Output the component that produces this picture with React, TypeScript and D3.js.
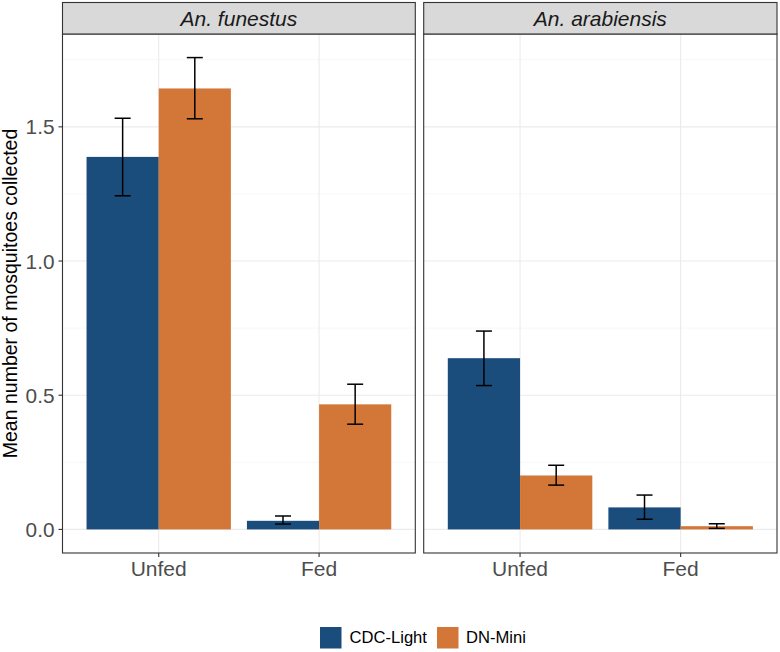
import React from "react";
import * as d3 from "d3";

const panels = ["An. funestus", "An. arabiensis"];
const categories = ["Unfed", "Fed"];
const methods = ["CDC-Light", "DN-Mini"];
const colors = ["#1a4d7c", "#d27738"];
// values per panel: [Unfed CDC, Unfed DN, Fed CDC, Fed DN]
const funestusMean = [1.388, 1.643, 0.032, 0.466];
const funestusLow = [1.243, 1.530, 0.020, 0.392];
const funestusHigh = [1.532, 1.758, 0.050, 0.541];
const arabiensisMean = [0.638, 0.201, 0.082, 0.012];
const arabiensisLow = [0.536, 0.165, 0.038, 0.004];
const arabiensisHigh = [0.739, 0.239, 0.128, 0.021];
const yTicks = [0, 0.5, 1.0, 1.5];
const yMinor = [0.25, 0.75, 1.25, 1.75];

const W = 780, H = 652;
const top = 34, bottom = 553;
const panelX = [[62.5, 415.3], [423.7, 777]];
const font = "Liberation Sans, Arial, sans-serif";

export default function App() {
  const yMax = 1.758;
  const pad = yMax * 0.05;
  const y = d3.scaleLinear().domain([-pad, yMax + pad]).range([bottom, top]);
  const data = [
    { mean: funestusMean, low: funestusLow, high: funestusHigh },
    { mean: arabiensisMean, low: arabiensisLow, high: arabiensisHigh },
  ];
  return (
    <svg width={W} height={H} style={{ position: "absolute", left: 0, top: 0, fontFamily: font }}>
      <rect width={W} height={H} fill="white" />
      {panels.map((p, pi) => {
        const [x0, x1] = panelX[pi];
        const x = d3.scalePoint().domain(categories).range([x0, x1]).padding(0.6);
        const unit = x.step();
        const cx = (c: string) => x(c) as number;
        const bw = unit * 0.45;
        const d = data[pi];
        return (
          <g key={p}>
            <rect x={x0} y={top} width={x1 - x0} height={bottom - top} fill="white" />
            {yMinor.map((t) => (
              <line key={"m" + t} x1={x0} x2={x1} y1={y(t)} y2={y(t)} stroke="#f2f2f2" strokeWidth={0.6} />
            ))}
            {yTicks.map((t) => (
              <line key={"M" + t} x1={x0} x2={x1} y1={y(t)} y2={y(t)} stroke="#ebebeb" strokeWidth={1.1} />
            ))}
            {categories.map((c) => (
              <line key={c} x1={cx(c)} x2={cx(c)} y1={top} y2={bottom} stroke="#ebebeb" strokeWidth={1.1} />
            ))}
            {categories.map((c, ci) =>
              methods.map((m, mi) => {
                const k = ci * 2 + mi;
                const bx = cx(c) - bw + mi * bw;
                const mid = bx + bw / 2;
                return (
                  <g key={c + m}>
                    <rect x={bx} y={y(d.mean[k])} width={bw} height={y(0) - y(d.mean[k])} fill={colors[mi]} />
                    <line x1={mid} x2={mid} y1={y(d.low[k])} y2={y(d.high[k])} stroke="black" strokeWidth={1.5} />
                    <line x1={mid - 8} x2={mid + 8} y1={y(d.low[k])} y2={y(d.low[k])} stroke="black" strokeWidth={1.5} />
                    <line x1={mid - 8} x2={mid + 8} y1={y(d.high[k])} y2={y(d.high[k])} stroke="black" strokeWidth={1.5} />
                  </g>
                );
              })
            )}
            <rect x={x0} y={top} width={x1 - x0} height={bottom - top} fill="none" stroke="#333333" strokeWidth={1.1} />
            <rect x={x0} y={2.5} width={x1 - x0} height={top - 2.5} fill="#d9d9d9" stroke="#333333" strokeWidth={1.1} />
            <text x={(x0 + x1) / 2} y={25.5} textAnchor="middle" fontSize={21} fontStyle="italic" fill="#1a1a1a">
              {p}
            </text>
            {categories.map((c) => (
              <g key={"t" + c}>
                <line x1={cx(c)} x2={cx(c)} y1={bottom} y2={bottom + 4} stroke="#333333" strokeWidth={1.1} />
                <text x={cx(c)} y={576} textAnchor="middle" fontSize={21} fill="#4d4d4d">
                  {c}
                </text>
              </g>
            ))}
            {pi === 0 &&
              yTicks.map((t) => (
                <g key={"y" + t}>
                  <line x1={x0 - 4} x2={x0} y1={y(t)} y2={y(t)} stroke="#333333" strokeWidth={1.1} />
                  <text x={x0 - 8} y={y(t)} dy="0.36em" textAnchor="end" fontSize={20.8} fill="#4d4d4d">
                    {t.toFixed(1)}
                  </text>
                </g>
              ))}
          </g>
        );
      })}
      <text
        transform={`translate(17,${(top + bottom) / 2}) rotate(-90)`}
        textAnchor="middle"
        fontSize={19.5}
        fill="#000"
      >
        Mean number of mosquitoes collected
      </text>
      <g>
        <rect x={320} y={627} width={21.5} height={21.5} fill={colors[0]} />
        <text x={349.5} y={643} fontSize={16.6} fill="#000">{methods[0]}</text>
        <rect x={437} y={627} width={21.5} height={21.5} fill={colors[1]} />
        <text x={466} y={643} fontSize={16.6} fill="#000">{methods[1]}</text>
      </g>
    </svg>
  );
}
